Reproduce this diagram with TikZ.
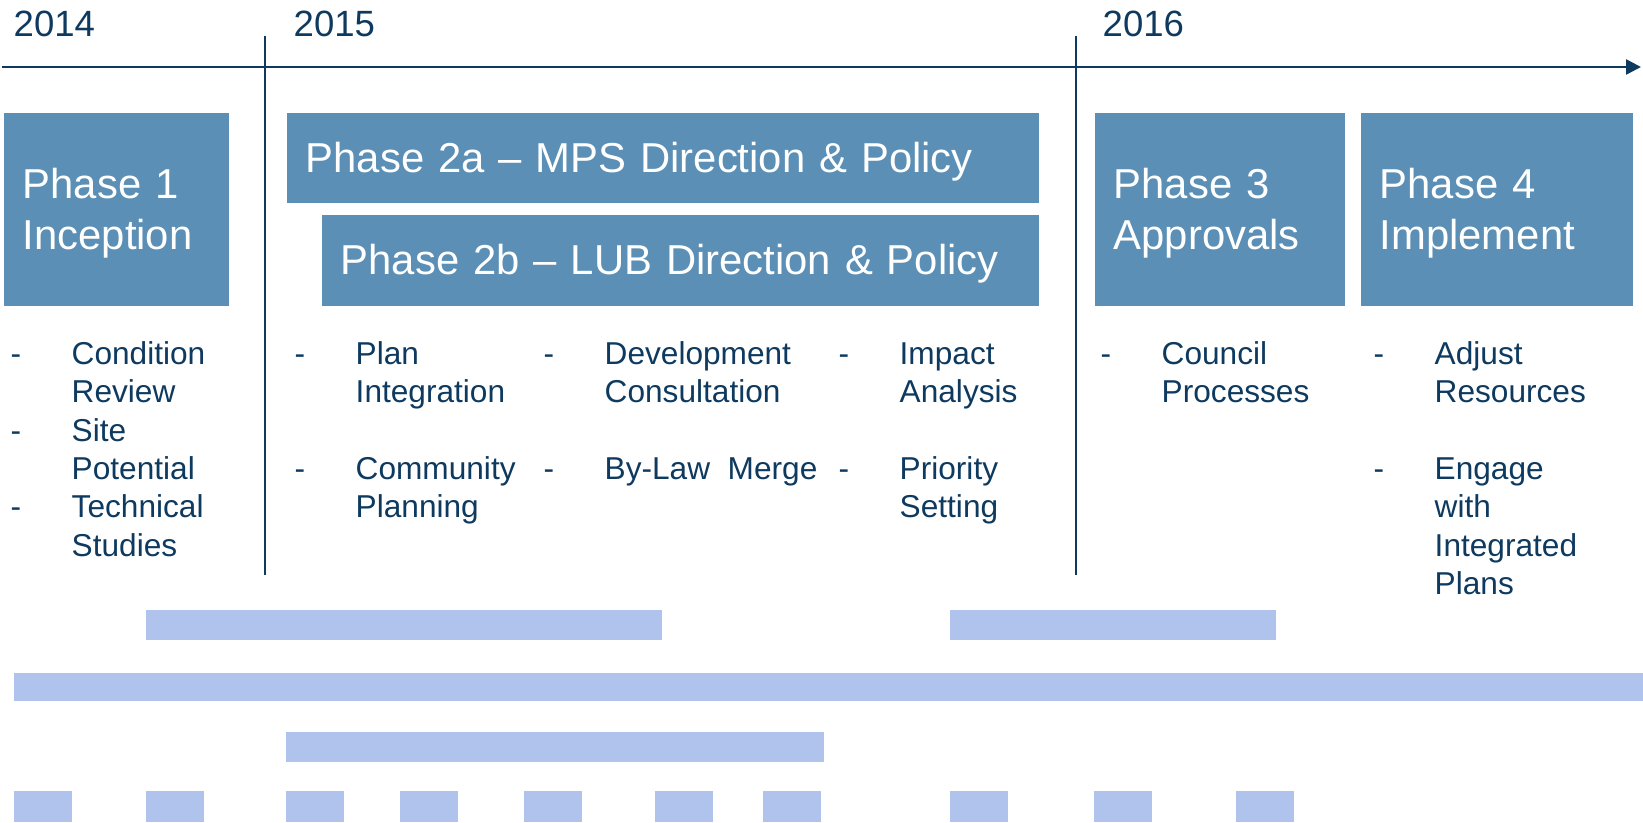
\documentclass[tikz,border=0pt]{standalone}
\usepackage{fontspec}
\setmainfont{Liberation Sans}
\usetikzlibrary{arrows.meta}

\definecolor{navy}{RGB}{14,58,95}
\definecolor{phaseblue}{RGB}{91,143,181}
\definecolor{barblue}{RGB}{175,195,237}

\newcommand{\phstrut}{\rule[-0.212em]{0pt}{1.117em}}
\newcommand{\bitem}[1]{\strut\makebox[0.61cm][l]{-}#1}
\newcommand{\bcont}[1]{\hspace*{0.61cm}#1}

\tikzset{
	phase/.style={fill=phaseblue, text=white, anchor=north west, align=left, inner xsep=0.19cm, inner ysep=0pt, font=\fontsize{11.9}{14.5}\selectfont},
	year/.style={anchor=base west, inner sep=0pt, text=navy, font=\fontsize{10.4}{12}\selectfont},
	tasks/.style={anchor=north west, inner sep=0pt, text=navy, align=left, font=\fontsize{9}{10.9}\selectfont},
	divider/.style={navy, line width=0.45pt},
	bar/.style={fill=barblue}
}

\begin{document}
\begin{tikzpicture}

	\useasboundingbox (0,0) rectangle (16.43,8.22);

	% time axis
	\coordinate (tstart) at (0.02,7.55);
	\coordinate (tend) at (16.41,7.55);
	\draw[navy, line width=0.7pt, -{Triangle[length=0.15cm,width=0.15cm]}] (tstart) -- (tend);
	\draw[divider] (2.65,7.86) -- (2.65,2.47);
	\draw[divider] (10.76,7.86) -- (10.76,2.47);

	\node[year] (y2014) at (0.13,7.85) {2014};
	\node[year] (y2015) at (2.93,7.85) {2015};
	\node[year] (y2016) at (11.02,7.85) {2016};

	% phases
	\node[phase, text width=1.87cm, minimum height=1.93cm] (ph1) at (0.03,7.10) {\phstrut Phase 1\\Inception};
	\node[phase, text width=7.14cm, minimum height=0.90cm] (ph2a) at (2.86,7.10) {\phstrut Phase 2a -- MPS Direction \& Policy};
	\node[phase, text width=6.79cm, minimum height=0.91cm] (ph2b) at (3.21,6.08) {\phstrut Phase 2b -- LUB Direction \& Policy};
	\node[phase, text width=2.12cm, minimum height=1.93cm] (ph3) at (10.94,7.10) {\phstrut Phase 3\\Approvals};
	\node[phase, text width=2.34cm, minimum height=1.93cm] (ph4) at (13.60,7.10) {\phstrut Phase 4\\Implement};

	% tasks
	\node[tasks] (t1) at (0.10,4.85) {\bitem{Condition}\\\bcont{Review}\\\bitem{Site}\\\bcont{Potential}\\\bitem{Technical}\\\bcont{Studies}};
	\node[tasks] (t2) at (2.94,4.85) {\bitem{Plan}\\\bcont{Integration}\\[10.9pt]\bitem{Community}\\\bcont{Planning}};
	\node[tasks] (t3) at (5.43,4.85) {\bitem{Development}\\\bcont{Consultation}\\[10.9pt]\bitem{By-Law\ \ Merge}};
	\node[tasks] (t4) at (8.38,4.85) {\bitem{Impact}\\\bcont{Analysis}\\[10.9pt]\bitem{Priority}\\\bcont{Setting}};
	\node[tasks] (t5) at (11.00,4.85) {\bitem{Council}\\\bcont{Processes}};
	\node[tasks] (t6) at (13.73,4.85) {\bitem{Adjust}\\\bcont{Resources}\\[10.9pt]\bitem{Engage}\\\bcont{with}\\\bcont{Integrated}\\\bcont{Plans}};

	% schedule bars
	\fill[bar] (1.46,1.82) rectangle (6.62,2.12);
	\fill[bar] (9.50,1.82) rectangle (12.76,2.12);
	\fill[bar] (0.14,1.21) rectangle (16.43,1.49);
	\fill[bar] (2.86,0.60) rectangle (8.24,0.90);
	\foreach \x in {0.14,1.46,2.86,4.00,5.24,6.55,7.63,9.50,10.94,12.36}
		\fill[bar] (\x,0) rectangle ++(0.575,0.31);

\end{tikzpicture}
\end{document}
